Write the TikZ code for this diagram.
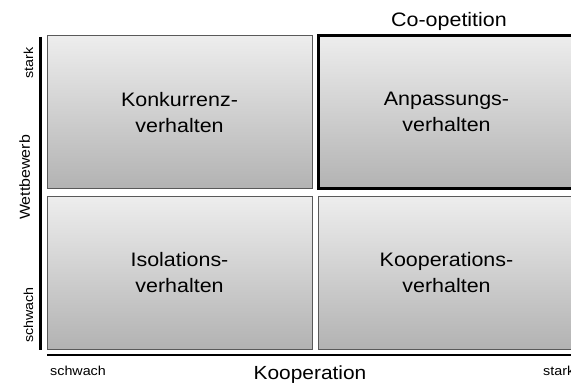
\documentclass[tikz,border=0pt]{standalone}
\usepackage{fontspec}
\setmainfont[FakeStretch=1.1]{Liberation Sans}
\usepackage{tikz}

\begin{document}
\begin{tikzpicture}[x=1pt, y=-1pt,
    feld/.style={shape=rectangle, draw=black!65, line width=1pt, top color=black!7, bottom color=black!30,
      minimum width=265pt, minimum height=153pt, inner sep=0pt, align=center,
      font=\fontsize{19.5}{26}\selectfont},
    achse/.style={line width=2.6pt, black},
    klein/.style={font=\fontsize{13}{15}\selectfont}]
    \useasboundingbox (0,0) rectangle (571,385);

    % vier Felder der Matrix
    \node (konk) [feld] at (179.5,112.5) {Konkurrenz-\\verhalten};
    \node (anp) [feld, draw=black, line width=3pt, minimum width=257pt] at (446.5,112) {Anpassungs-\\verhalten};
    \node (iso) [feld, minimum height=152pt] at (179.5,273) {Isolations-\\verhalten};
    \node (koop) [feld, minimum width=257pt, minimum height=152pt] at (446.5,273) {Kooperations-\\verhalten};

    % Achsen
    \draw[achse] (40.5,37) -- (40.5,350);
    \draw[achse] (47,355) -- (575,355);

    % Beschriftung
    \node (coopet) [anchor=base, font=\fontsize{19.5}{22}\selectfont] at (449,27) {Co-opetition};
    \node (kooperation) [anchor=base, font=\fontsize{19}{22}\selectfont] at (310,379) {Kooperation};
    \node (wettbewerb) [anchor=base, rotate=90, font=\fontsize{14.5}{17}\selectfont] at (30,177.5) {Wettbewerb};
    \node (xschwach) [klein, anchor=base west, inner sep=0pt] at (50,375) {schwach};
    \node (xstark) [klein, anchor=base west, inner sep=0pt] at (543,375) {stark};
    \node (ystark) [klein, anchor=base east, rotate=90, inner sep=0pt] at (33,47) {stark};
    \node (yschwach) [klein, anchor=base west, rotate=90, inner sep=0pt] at (33,343) {schwach};
\end{tikzpicture}
\end{document}
